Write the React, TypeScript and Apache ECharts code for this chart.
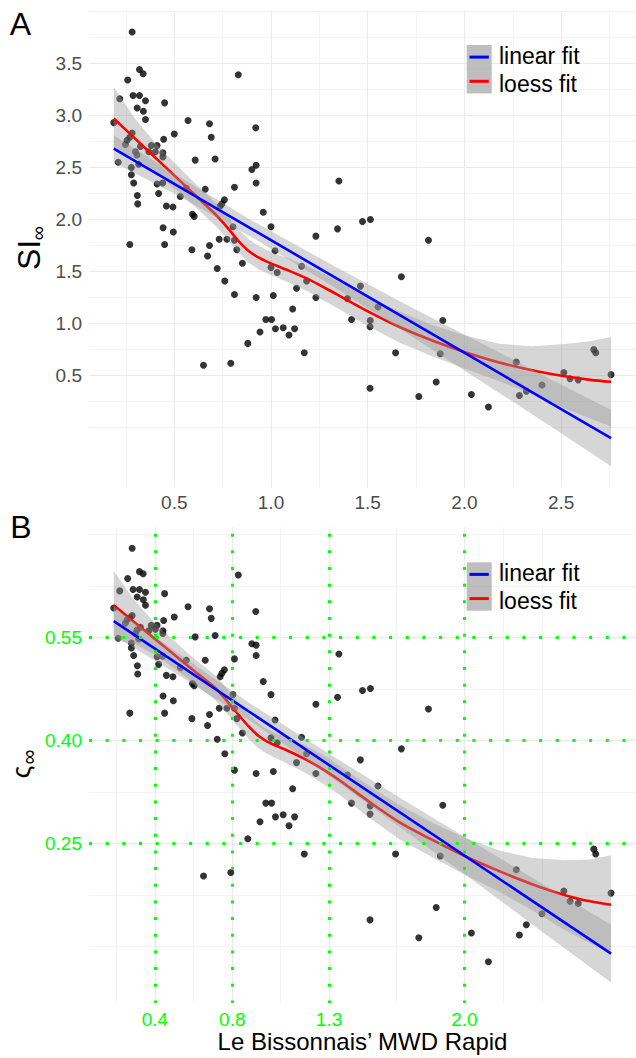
import React, { useEffect, useRef } from "react";
import * as echarts from "echarts";

// ---------- data ----------
const mwd = [
  0.187, 0.21, 0.218, 0.247, 0.256, 0.259, 0.27, 0.27, 0.278, 0.278, 0.282, 0.282, 0.287, 0.29, 0.299, 0.307,
  0.308, 0.309, 0.311, 0.316, 0.32, 0.32, 0.325, 0.339, 0.34, 0.351, 0.351, 0.368, 0.381, 0.402, 0.411, 0.411,
  0.419, 0.44, 0.441, 0.441, 0.442, 0.445, 0.45, 0.45, 0.459, 0.493, 0.495, 0.5, 0.531, 0.562, 0.571, 0.591,
  0.594, 0.603, 0.608, 0.651, 0.66, 0.672, 0.682, 0.682, 0.691, 0.711, 0.722, 0.732, 0.737, 0.746, 0.759, 0.761,
  0.772, 0.792, 0.803, 0.811, 0.811, 0.811, 0.823, 0.831, 0.852, 0.88, 0.901, 0.921, 0.923, 0.923, 0.923, 0.943,
  0.96, 0.973, 1.0, 1.0, 1.003, 1.012, 1.021, 1.023, 1.032, 1.063, 1.093, 1.112, 1.122, 1.132, 1.158, 1.172,
  1.184, 1.232, 1.232, 1.344, 1.351, 1.395, 1.416, 1.462, 1.473, 1.512, 1.513, 1.512, 1.514, 1.553, 1.644, 1.674,
  1.764, 1.814, 1.854, 1.875, 1.888, 2.036, 2.124, 2.268, 2.284, 2.32, 2.401, 2.514, 2.546, 2.588, 2.669, 2.679,
  2.758,
];
const siInf = [
  2.93, 2.55, 3.16, 2.72, 2.76, 3.34, 2.79, 1.76, 2.5, 2.43, 3.8, 2.83, 3.19, 2.35, 2.65, 2.62,
  3.07, 2.23, 2.15, 2.53, 3.44, 3.19, 2.7, 3.4, 3.04, 3.14, 2.96, 2.65, 2.71, 2.65, 2.71, 2.34,
  2.25, 2.35, 2.64, 2.6, 1.92, 2.77, 3.12, 1.76, 2.13, 2.12, 1.88, 2.82, 2.22, 2.3, 2.95, 1.71,
  2.05, 2.03, 2.57, 0.6, 2.29, 1.65, 2.92, 1.75, 2.79, 2.58, 1.53, 1.81, 2.13, 2.15, 2.19, 1.41,
  1.81, 0.62, 1.93, 2.31, 1.8, 1.28, 1.71, 3.39, 1.58, 0.81, 2.48, 2.88, 2.52, 2.35, 1.25, 0.92,
  2.07, 1.04, 1.93, 1.54, 1.04, 1.27, 1.7, 0.95, 1.49, 0.96, 0.89, 1.14, 0.95, 1.34, 1.55, 0.72,
  1.41, 1.84, 1.25, 1.91, 2.37, 1.24, 1.04, 1.36, 1.98, 0.97, 1.03, 0.38, 2.0, 1.16, 0.72, 1.45,
  0.3, 1.8, 0.44, 0.71, 1.03, 0.32, 0.2, 0.63, 0.31, 0.35, 0.41, 0.53, 0.47, 0.46, 0.75, 0.72,
  0.51,
];
const sigmaInf = [
  0.593, 0.549, 0.618, 0.571, 0.576, 0.636, 0.579, 0.44, 0.542, 0.535, 0.68, 0.582, 0.62, 0.524, 0.556, 0.561,
  0.609, 0.509, 0.497, 0.548, 0.646, 0.62, 0.565, 0.643, 0.605, 0.616, 0.597, 0.56, 0.568, 0.562, 0.568, 0.522,
  0.511, 0.523, 0.56, 0.556, 0.465, 0.575, 0.614, 0.44, 0.495, 0.493, 0.458, 0.58, 0.506, 0.517, 0.595, 0.432,
  0.483, 0.48, 0.551, 0.203, 0.517, 0.422, 0.592, 0.438, 0.578, 0.553, 0.402, 0.447, 0.493, 0.498, 0.503, 0.381,
  0.447, 0.208, 0.467, 0.519, 0.447, 0.357, 0.432, 0.641, 0.411, 0.257, 0.541, 0.588, 0.539, 0.524, 0.352, 0.282,
  0.486, 0.309, 0.467, 0.404, 0.309, 0.355, 0.43, 0.289, 0.397, 0.292, 0.276, 0.33, 0.289, 0.368, 0.405, 0.235,
  0.381, 0.453, 0.352, 0.463, 0.526, 0.35, 0.309, 0.372, 0.473, 0.293, 0.305, 0.139, 0.476, 0.334, 0.235, 0.388,
  0.113, 0.446, 0.157, 0.232, 0.306, 0.12, 0.078, 0.212, 0.117, 0.132, 0.148, 0.181, 0.166, 0.163, 0.242, 0.235,
  0.178,
];

// linear fits (end points) and their confidence band
const linX = [0.187, 2.758];
const linA = [2.68, -0.1];
const linB = [0.574, 0.09];
const bandX = [0.187, 0.5, 0.9, 1.3, 1.7, 2.1, 2.4, 2.758];
const linAUpper = [2.81, 2.44, 1.99, 1.58, 1.18, 0.8, 0.51, 0.17];
const linALower = [2.55, 2.25, 1.83, 1.38, 0.91, 0.43, 0.07, -0.37];
const linBUpper = [0.595, 0.531, 0.4525, 0.381, 0.311, 0.243, 0.192, 0.132];
const linBLower = [0.553, 0.499, 0.4275, 0.349, 0.267, 0.185, 0.122, 0.048];

// loess fits and their confidence band
const loessX = [
  0.187, 0.3, 0.4, 0.5, 0.6, 0.711, 0.75, 0.789, 0.831, 0.883, 0.935, 0.978, 1.03, 1.081, 1.184, 1.287, 1.356,
  1.493, 1.665, 1.837, 2.0, 2.18, 2.35, 2.52, 2.65, 2.758,
];
const loessA = [
  2.97, 2.772, 2.597, 2.422, 2.247, 2.053, 1.975, 1.89, 1.795, 1.7, 1.635, 1.595, 1.555, 1.517, 1.435, 1.335,
  1.265, 1.125, 0.967, 0.835, 0.728, 0.627, 0.552, 0.494, 0.46, 0.441,
];
const loessAUpper = [
  3.27, 2.96, 2.74, 2.545, 2.36, 2.165, 2.087, 2.002, 1.907, 1.812, 1.747, 1.707, 1.667, 1.632, 1.555, 1.465,
  1.395, 1.265, 1.117, 0.985, 0.888, 0.807, 0.782, 0.804, 0.83, 0.871,
];
const loessALower = [
  2.67, 2.584, 2.454, 2.299, 2.134, 1.941, 1.863, 1.778, 1.683, 1.588, 1.523, 1.483, 1.443, 1.402, 1.315, 1.205,
  1.135, 0.985, 0.817, 0.685, 0.568, 0.447, 0.322, 0.184, 0.09, 0.011,
];
const loessB = [
  0.597, 0.571, 0.548, 0.525, 0.502, 0.477, 0.465, 0.452, 0.438, 0.421, 0.407, 0.399, 0.392, 0.386, 0.372, 0.355,
  0.342, 0.314, 0.281, 0.255, 0.232, 0.21, 0.191, 0.175, 0.166, 0.161,
];
const loessBUpper = [
  0.647, 0.602, 0.571, 0.545, 0.52, 0.495, 0.483, 0.47, 0.456, 0.439, 0.425, 0.417, 0.41, 0.405, 0.392, 0.376,
  0.363, 0.337, 0.306, 0.28, 0.259, 0.24, 0.229, 0.226, 0.227, 0.233,
];
const loessBLower = [
  0.547, 0.54, 0.525, 0.505, 0.484, 0.459, 0.447, 0.434, 0.42, 0.403, 0.389, 0.381, 0.374, 0.367, 0.352, 0.334,
  0.321, 0.291, 0.256, 0.23, 0.205, 0.18, 0.153, 0.124, 0.105, 0.089,
];

// ticks
const xTicksA = [0.5, 1.0, 1.5, 2.0, 2.5];
const xMinorA = [0.25, 0.75, 1.25, 1.75, 2.25, 2.75];
const yTicksA = [0.5, 1.0, 1.5, 2.0, 2.5, 3.0, 3.5];
const yMinorA = [0, 0.25, 0.75, 1.25, 1.75, 2.25, 2.75, 3.25, 3.75, 4.0];
const xTicksB = [0.4, 0.8, 1.3, 2.0];
const xMinorB = [0.2, 0.6, 1.05, 1.65, 2.2, 2.4];
const yTicksB = [0.25, 0.4, 0.55];
const yMinorB = [0.1, 0.175, 0.325, 0.475, 0.625, 0.7];

const xTitle = "Le Bissonnais\u2019 MWD Rapid";
const legendNames = ["linear fit", "loess fit"];

// ---------- styling ----------
const FONT = "Liberation Sans, Arial, sans-serif";
const GRID = "#EBEBEB";
const GREEN = "#00FF00";
const X_MIN = 0.059;
const X_MAX = 2.887;

function axis(kind: "x" | "y", gridIndex: number, min: number, max: number, ticks: number[], o: any = {}) {
  return {
    type: "value",
    gridIndex,
    min,
    max,
    z: o.z ?? 0,
    position: kind === "x" ? "bottom" : "left",
    axisLine: { show: false, onZero: false },
    axisTick: { show: false, customValues: ticks },
    axisLabel: o.labels
      ? {
          show: true,
          customValues: ticks,
          formatter: (v: number) => v.toFixed(o.digits),
          color: o.labelColor,
          fontSize: 19,
          fontFamily: FONT,
          margin: o.margin,
        }
      : { show: false },
    splitLine: { show: true, lineStyle: o.line },
    ...(o.extra || {}),
  };
}

function ribbon(xs: number[], lo: number[], hi: number[], ai: number, z: number) {
  return {
    type: "custom",
    xAxisIndex: ai,
    yAxisIndex: ai,
    z,
    silent: true,
    clip: true,
    data: xs.map((x, i) => [x, lo[i], hi[i]]),
    encode: { x: 0, y: [1, 2] },
    renderItem: (params: any, api: any) => {
      if (params.dataIndex !== 0) return null;
      const top = xs.map((x, i) => api.coord([x, hi[i]]));
      const bot = xs.map((x, i) => api.coord([x, lo[i]])).reverse();
      return {
        type: "polygon",
        shape: { points: top.concat(bot) },
        style: { fill: "rgba(153,153,153,0.4)" },
      };
    },
  };
}

function fitLine(xs: number[], ys: number[], ai: number, color: string, z: number, smooth: number) {
  return {
    type: "line",
    xAxisIndex: ai,
    yAxisIndex: ai,
    z,
    silent: true,
    symbol: "none",
    smooth,
    data: xs.map((x, i) => [x, ys[i]]),
    lineStyle: { color, width: 2.6 },
  };
}

function scatter(ys: number[], ai: number) {
  return {
    type: "scatter",
    xAxisIndex: ai,
    yAxisIndex: ai,
    z: 2,
    silent: true,
    symbolSize: 7,
    itemStyle: { color: "#000000" },
    data: mwd.map((x, i) => [x, ys[i]]),
  };
}

function legend(top: number) {
  const h = 24.2;
  const els: any[] = [];
  [
    ["#0000FF", legendNames[0], -1.8],
    ["#FF0000", legendNames[1], 2.2],
  ].forEach(([c, name, dy], i) => {
    const y0 = top + i * h;
    els.push({ type: "rect", shape: { x: 466.7, y: y0, width: 25, height: h }, style: { fill: "#BEBEBE" }, z: 20 });
    els.push({
      type: "line",
      shape: { x1: 469.5, y1: y0 + h / 2, x2: 488.8, y2: y0 + h / 2 },
      style: { stroke: c, lineWidth: 3 },
      z: 21,
    });
    els.push({
      type: "text",
      x: 499,
      y: y0 + h / 2 + 0.5 + (dy as number),
      z: 21,
      style: {
        text: name,
        fill: "#000",
        font: `23px ${FONT}`,
        align: "left",
        verticalAlign: "middle",
      },
    });
  });
  els.push({
    type: "line",
    shape: { x1: 466.7, y1: top + h, x2: 491.7, y2: top + h },
    style: { stroke: "#ADADAD", lineWidth: 0.6 },
    z: 21,
  });
  return els;
}

function buildOption() {
  const major = { color: GRID, width: 1.1 };
  const minor = { color: GRID, width: 0.55 };
  const dottedV = { color: GREEN, width: 3, type: [3, 13.67], dashOffset: 10.3, cap: "butt" };
  const dottedH = { color: GREEN, width: 3, type: [3, 13.67], dashOffset: 0, cap: "butt" };
  return {
    animation: false,
    backgroundColor: "#FFFFFF",
    textStyle: { fontFamily: FONT },
    grid: [
      { left: 89, top: 11, width: 548, height: 476, containLabel: false },
      { left: 89, top: 527, width: 548, height: 476, containLabel: false },
    ],
    xAxis: [
      axis("x", 0, X_MIN, X_MAX, xTicksA, { labels: true, digits: 1, labelColor: "#4D4D4D", margin: 6, line: major }),
      axis("x", 1, X_MIN, X_MAX, xTicksB, {
        labels: true,
        digits: 1,
        labelColor: GREEN,
        margin: 7,
        line: major,
        extra: {
          name: xTitle,
          nameLocation: "middle",
          nameGap: 25,
          nameTextStyle: { fontSize: 24, color: "#000000", fontFamily: FONT },
        },
      }),
      axis("x", 0, X_MIN, X_MAX, xMinorA, { line: minor }),
      axis("x", 1, X_MIN, X_MAX, xMinorB, { line: minor }),
      axis("x", 1, X_MIN, X_MAX, xTicksB, { line: dottedV, z: 10 }),
    ],
    yAxis: [
      axis("y", 0, -0.569, 4.002, yTicksA, { labels: true, digits: 1, labelColor: "#4D4D4D", margin: 7, line: major }),
      axis("y", 1, 0.018, 0.711, yTicksB, { labels: true, digits: 2, labelColor: GREEN, margin: 7, line: major }),
      axis("y", 0, -0.569, 4.002, yMinorA, { line: minor }),
      axis("y", 1, 0.018, 0.711, yMinorB, { line: minor }),
      axis("y", 1, 0.018, 0.711, yTicksB, { line: dottedH, z: 10 }),
    ],
    series: [
      scatter(siInf, 0),
      ribbon(loessX, loessALower, loessAUpper, 0, 3),
      fitLine(loessX, loessA, 0, "#FF0000", 4, 0.3),
      ribbon(bandX, linALower, linAUpper, 0, 5),
      fitLine(linX, linA, 0, "#0000FF", 6, 0),

      scatter(sigmaInf, 1),
      ribbon(loessX, loessBLower, loessBUpper, 1, 3),
      fitLine(loessX, loessB, 1, "#FF0000", 4, 0.3),
      ribbon(bandX, linBLower, linBUpper, 1, 5),
      fitLine(linX, linB, 1, "#0000FF", 6, 0),
    ],
    graphic: {
      elements: [
        { type: "text", x: 20.5, y: 23.5, style: { text: "A", fill: "#000", font: `32px ${FONT}`, align: "center", verticalAlign: "middle" } },
        { type: "text", x: 21, y: 526.5, style: { text: "B", fill: "#000", font: `32px ${FONT}`, align: "center", verticalAlign: "middle" } },
        { type: "text", x: 28.5, y: 255, rotation: Math.PI / 2, style: { text: "SI", fill: "#000", font: `32px ${FONT}`, align: "center", verticalAlign: "middle" } },
        { type: "text", x: 37.5, y: 233, rotation: Math.PI / 2, style: { text: "\u221E", fill: "#000", font: `20px ${FONT}`, align: "center", verticalAlign: "middle" } },
        { type: "text", x: 21, y: 772, rotation: Math.PI / 2, style: { text: "\u03C2", fill: "#000", font: `26px ${FONT}`, align: "center", verticalAlign: "middle" } },
        { type: "text", x: 28, y: 757, rotation: Math.PI / 2, style: { text: "\u221E", fill: "#000", font: `21px ${FONT}`, align: "center", verticalAlign: "middle" } },
        ...legend(45),
        ...legend(562.3),
      ],
    },
  };
}

export default function App() {
  const ref = useRef<HTMLDivElement>(null);
  useEffect(() => {
    document.body.style.margin = "0";
    const chart = echarts.init(ref.current as HTMLDivElement, null, { renderer: "svg", width: 636, height: 1058 });
    chart.setOption(buildOption() as any);
    return () => chart.dispose();
  }, []);
  return <div ref={ref} style={{ width: 636, height: 1058 }} />;
}
